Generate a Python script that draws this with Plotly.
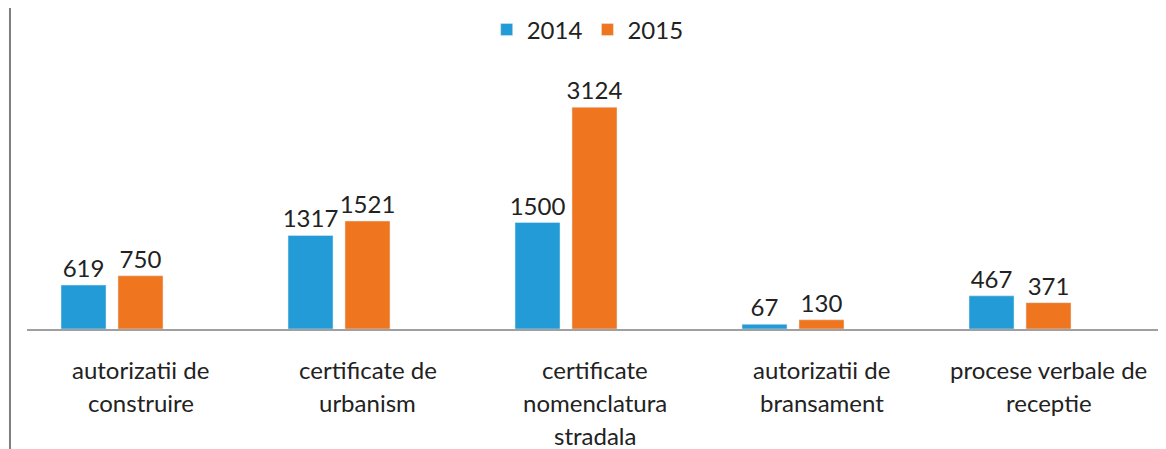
import plotly.graph_objects as go

categories = ["autorizatii de<br>construire", "certificate de<br>urbanism",
              "certificate<br>nomenclatura<br>stradala", "autorizatii de<br>bransament",
              "procese verbale de<br>receptie"]
series_2014 = [619, 1317, 1500, 67, 467]
series_2015 = [750, 1521, 3124, 130, 371]
series_names = ["2014", "2015"]

BLUE = "#229BD7"
ORANGE = "#EF761F"
TXT = "#222222"
FONT = "Lato"
FS = 24

fig = go.Figure()
fig.add_trace(go.Bar(name=series_names[0], x=categories, y=series_2014, marker_color=BLUE,
                     text=series_2014, textposition="outside", cliponaxis=False,
                     constraintext="none",
                     textfont=dict(size=FS, color=TXT, family=FONT)))
fig.add_trace(go.Bar(name=series_names[1], x=categories, y=series_2015, marker_color=ORANGE,
                     text=series_2015, textposition="outside", cliponaxis=False,
                     constraintext="none",
                     textfont=dict(size=FS, color=TXT, family=FONT)))
# empty third slot (as in the original Excel chart)
fig.add_trace(go.Bar(name="", x=categories, y=[None] * len(categories), showlegend=False,
                     hoverinfo="skip", marker_color="rgba(0,0,0,0)"))

# category labels with loose line spacing
for cat in categories:
    for i, line in enumerate(cat.split("<br>")):
        fig.add_annotation(x=cat, y=0, xref="x", yref="paper", text=line, showarrow=False,
                           yanchor="middle", yshift=-(40 + 33 * i),
                           font=dict(size=FS, color=TXT, family=FONT))

# left border line
fig.add_shape(type="line", xref="paper", yref="paper", x0=-0.015, x1=-0.015,
              y0=-0.43, y1=1.14, line=dict(color="#7F7F7F", width=2))

fig.update_layout(
    width=1158, height=441,
    margin=dict(l=19, r=4, t=37, b=120, autoexpand=False),
    paper_bgcolor="white", plot_bgcolor="white",
    barmode="group", bargap=0.247, bargroupgap=0.21,
    font=dict(family=FONT, size=FS, color=TXT),
    legend=dict(orientation="h", x=0.494, xanchor="center", y=1.053, yanchor="middle",
                font=dict(size=FS, color=TXT, family=FONT), itemwidth=30,
                traceorder="normal"),
    xaxis=dict(showticklabels=False, showline=True, linecolor="#A0A0A0", linewidth=2,
               ticks="", showgrid=False, zeroline=False),
    yaxis=dict(range=[0, 4000], visible=False, showgrid=False, zeroline=False),
)

fig.write_html("out.html")
